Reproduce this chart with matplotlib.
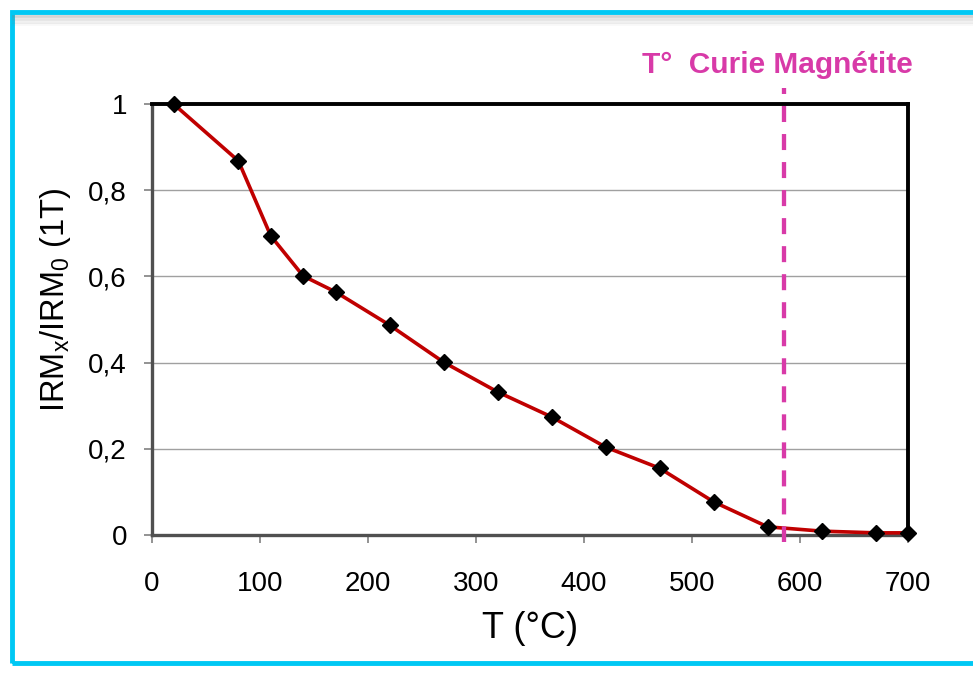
import matplotlib.pyplot as plt
from matplotlib.patches import Rectangle
from matplotlib.lines import Line2D

# demagnetisation data: temperature (°C) vs normalised IRM
temperature = [20, 80, 110, 140, 170, 220, 270, 320, 370, 420, 470, 520, 570, 620, 670, 700]
irm_ratio = [1.0, 0.868, 0.694, 0.601, 0.564, 0.487, 0.401, 0.332, 0.274, 0.204,
             0.155, 0.077, 0.019, 0.009, 0.005, 0.005]
curie_temp = 585
x_ticks = [0, 100, 200, 300, 400, 500, 600, 700]
y_ticks = [0, 0.2, 0.4, 0.6, 0.8, 1.0]
y_tick_labels = ['0', '0,2', '0,4', '0,6', '0,8', '1']

plt.rcParams['font.family'] = ['Liberation Sans', 'DejaVu Sans']

fig = plt.figure(figsize=(9.73, 6.75), dpi=100)
ax = fig.add_axes([0.1562, 0.2074, 0.7770, 0.6385])

# cyan frame with a soft shadow under the top edge
for i, a in enumerate([0.35, 0.22, 0.12, 0.05]):
    fig.add_artist(Line2D([0.013, 1.0], [0.976 - i * 0.004] * 2, color='#808080',
                          lw=2, alpha=a, transform=fig.transFigure))
fig.add_artist(Rectangle((0.012, 0.018), 1.0, 0.964, fill=False, edgecolor='#00c8f4',
                         lw=3.5, transform=fig.transFigure))

ax.plot(temperature, irm_ratio, color='#c00000', lw=2.6, marker='D', markersize=8,
        markerfacecolor='black', markeredgecolor='black', zorder=3, clip_on=False)

ax.set_xlim(0, 700)
ax.set_ylim(0, 1)
ax.set_xticks(x_ticks)
ax.set_yticks(y_ticks)
ax.set_yticklabels(y_tick_labels)
ax.tick_params(axis='both', direction='out', length=6, width=1.2, color='#808080',
               labelsize=20)
ax.tick_params(axis='y', pad=12)
ax.tick_params(axis='x', pad=20)
ax.yaxis.grid(True, color='#a0a0a0', lw=1)
ax.set_axisbelow(True)

for side in ['top', 'right']:
    ax.spines[side].set_color('black')
    ax.spines[side].set_linewidth(2.8)
for side in ['left', 'bottom']:
    ax.spines[side].set_color('#505050')
    ax.spines[side].set_linewidth(2.4)

ax.set_xlabel('T (°C)', fontsize=26, labelpad=10)
ax.set_ylabel('IRM$_\\mathregular{x}$/IRM$_\\mathregular{0}$ (1T)', fontsize=23.5)
ax.yaxis.set_label_coords(-0.105, 0.545)

# Curie temperature of magnetite
ax.plot([curie_temp, curie_temp], [1.037, -0.016], color='#d83aa8', lw=3.1,
        linestyle=(2.33, (3.72, 2.79)), clip_on=False, zorder=4)
ax.text(curie_temp - 6, 1.072, 'T°  Curie Magnétite', color='#d83aa8', fontsize=21.5,
        fontweight='bold', ha='center', va='baseline')

fig.savefig('out.png', dpi=100)
